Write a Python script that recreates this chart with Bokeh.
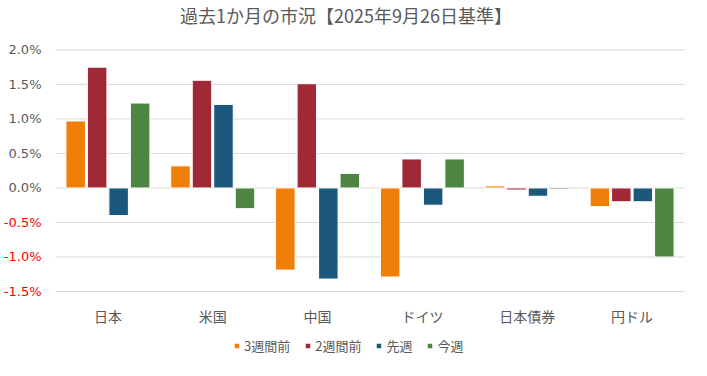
from bokeh.plotting import figure
from bokeh.models import (Range1d, LabelSet, Label, Legend, LegendItem, ColumnDataSource)
from bokeh.core.properties import value
from bokeh.transform import dodge
from bokeh.embed import file_html
from bokeh.resources import INLINE

title_text = "過去1か月の市況【2025年9月26日基準】"
categories = ["日本", "米国", "中国", "ドイツ", "日本債券", "円ドル"]
series_names = ["3週間前", "2週間前", "先週", "今週"]
w3 = [0.97, 0.32, -1.19, -1.29, 0.03, -0.27]
w2 = [1.75, 1.56, 1.51, 0.42, -0.03, -0.20]
w1 = [-0.40, 1.21, -1.32, -0.25, -0.12, -0.20]
w0 = [1.23, -0.30, 0.21, 0.42, -0.02, -1.00]
y_ticks = [-1.5, -1.0, -0.5, 0.0, 0.5, 1.0, 1.5, 2.0]
colors = ["#F07F09", "#9F2936", "#1B587C", "#4E8542"]

JP = "Noto Sans CJK JP"
NUM = "DejaVu Sans"
GRAY = "#595959"
RED = "#FF0000"

# layout (pixels inside the figure)
W, H = 691, 360
PLOT_L, PLOT_R = 55, 684        # left / right end of the gridlines
TOP_Y, BOT_Y = 49.4, 291.0      # pixel rows of the top and bottom gridline
n = len(categories)
x_px = (PLOT_R - PLOT_L) / n
y_px = (BOT_Y - TOP_Y) / (y_ticks[-1] - y_ticks[0])
x_range = Range1d(-PLOT_L / x_px, n + (W - PLOT_R) / x_px)
y_range = Range1d(y_ticks[0] - (H - BOT_Y) / y_px, y_ticks[-1] + TOP_Y / y_px)

xi = [i + 0.5 for i in range(n)]
src = ColumnDataSource(dict(x=xi, cat=categories, s0=w3, s1=w2, s2=w1, s3=w0))

p = figure(x_range=x_range, y_range=y_range, width=W, height=H,
           output_backend="svg", toolbar_location=None,
           x_axis_location=None, y_axis_location=None, min_border=0)
p.outline_line_color = None
p.grid.visible = False

# horizontal gridlines at the y ticks
p.segment(x0=0, x1=n, y0=y_ticks, y1=y_ticks, line_color="#D9D9D9", line_width=1)

offsets = [-0.3075, -0.1025, 0.1025, 0.3075]
items = []
for i, name in enumerate(series_names):
    r = p.vbar(x=dodge("x", offsets[i]), top="s%d" % i, width=0.186,
               source=src, fill_color=colors[i], line_color="white", line_width=1)
    items.append(LegendItem(label=name, renderers=[r]))

# y tick labels (negatives in red)
ysrc = ColumnDataSource(dict(y=y_ticks,
                             text=["%.1f%%" % t for t in y_ticks],
                             color=[GRAY if t >= 0 else RED for t in y_ticks]))
p.add_layout(LabelSet(x=PLOT_L - 14, y="y", text="text", source=ysrc,
                      x_units="screen", y_units="data",
                      text_align="right", text_baseline="middle", text_color="color",
                      text_font=value(NUM), text_font_size="13px"))

# category labels
p.add_layout(LabelSet(x="x", y=H - 315, text="cat", source=src,
                      x_units="data", y_units="screen",
                      text_align="center", text_baseline="middle", text_color=GRAY,
                      text_font=value(JP), text_font_size="14px"))

# title
p.add_layout(Label(x=345.5, y=H - 14, x_units="screen", y_units="screen", text=title_text,
                   text_align="center", text_baseline="middle", text_color=GRAY,
                   text_font=JP, text_font_size="18px"))

legend = Legend(items=items, orientation="horizontal", location=(233, 5),
                glyph_width=7, glyph_height=7, label_height=16, label_standoff=4, spacing=14,
                padding=0, margin=0, border_line_alpha=0, background_fill_alpha=0,
                label_text_font=JP, label_text_font_size="13px", label_text_color=GRAY)
p.add_layout(legend)

open("out.html", "w").write(file_html(p, INLINE))
